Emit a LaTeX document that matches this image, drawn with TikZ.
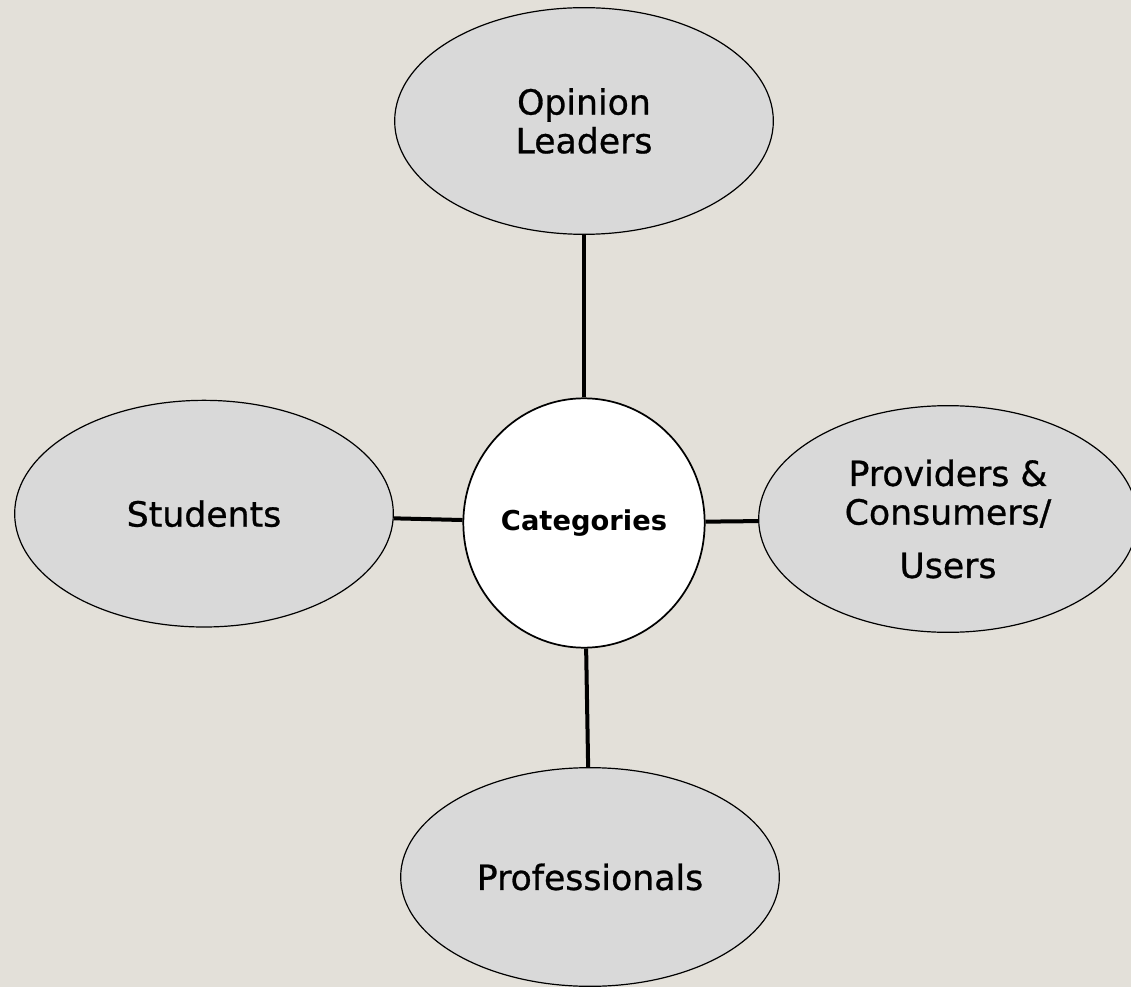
\documentclass[tikz,border=0pt]{standalone}
\usepackage{fontspec}
\setmainfont{DejaVu Sans}
\newfontfamily\bubblefont{DejaVu Sans}[FakeBold=0.8]
\usetikzlibrary{shapes.geometric,positioning}
\definecolor{paper}{RGB}{227,224,217}
\definecolor{bubble}{RGB}{217,217,217}
\begin{document}
\begin{tikzpicture}[
  x=0.75pt, y=-0.75pt,
  group/.style={ellipse, draw, line width=0.9pt, fill=bubble, minimum width=284pt, minimum height=170pt, inner sep=0pt, align=center, font=\bubblefont\fontsize{26}{29}\selectfont},
  hub/.style={ellipse, draw, line width=1.3pt, fill=white, minimum width=181pt, minimum height=187pt, inner sep=0pt, font=\bfseries\fontsize{20.5}{24}\selectfont},
  link/.style={line width=3pt},
  node distance=2cm
]
\fill[paper] (0,0) rectangle (1131,987);
\useasboundingbox (0,0) rectangle (1131,987);

\node[hub] (cat) at (584,523) {Categories};
\node[group, above of=cat, node distance=301.5pt] (leaders) {Opinion\\Leaders};
\node[group, left of=cat, node distance=285pt, yshift=7pt] (students) {Students};
\node[group, right of=cat, node distance=273pt, yshift=3pt] (providers) {Providers \&\\Consumers/\\[11pt]Users};
\node[group, below of=cat, node distance=265.5pt, xshift=4.5pt, minimum height=164pt] (profs) {Professionals};

\draw[link] (leaders) -- (cat);
\draw[link] (students) -- (cat);
\draw[link] (cat) -- (providers);
\draw[link] (cat) -- (profs);
\end{tikzpicture}
\end{document}
